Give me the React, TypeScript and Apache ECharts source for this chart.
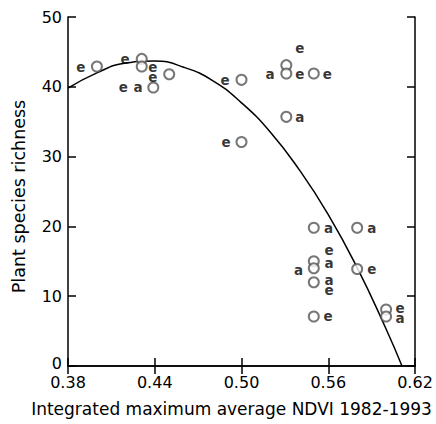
import React, { useEffect, useRef } from "react";
import * as echarts from "echarts";

// Observed sites: [NDVI, richness]
const circleX = [0.40, 0.431, 0.431, 0.450, 0.439, 0.50, 0.50, 0.531, 0.531, 0.55, 0.531, 0.55, 0.58, 0.55, 0.55, 0.55, 0.55, 0.58, 0.60, 0.60];
const circleY = [42.9, 44.0, 42.9, 41.8, 39.9, 41.0, 32.1, 43.1, 41.9, 41.9, 35.7, 19.8, 19.8, 15.0, 14.0, 12.0, 7.1, 13.9, 8.1, 7.1];

// Letter markers (e / a) placed next to points: [NDVI, richness, letter]
const letterX = [0.3888, 0.4194, 0.4386, 0.4386, 0.4182, 0.4284, 0.4886, 0.4893, 0.5404, 0.5197, 0.5404, 0.5593, 0.5404, 0.5603, 0.5902, 0.5605, 0.5605, 0.5394, 0.5605, 0.5605, 0.5598, 0.5902, 0.6096, 0.6096];
const letterY = [42.9, 44.0, 42.8, 41.4, 39.9, 39.9, 41.0, 32.1, 45.5, 41.9, 41.9, 41.9, 35.7, 19.8, 19.8, 16.6, 14.8, 13.8, 12.3, 10.9, 7.1, 13.9, 8.3, 6.9];
const letters = ["e", "e", "e", "e", "e", "a", "e", "e", "e", "a", "e", "e", "a", "a", "a", "e", "a", "a", "a", "e", "e", "e", "e", "a"];

// Fitted curve
const curveX = [0.38, 0.40, 0.42, 0.44, 0.46, 0.48, 0.50, 0.52, 0.54, 0.56, 0.58, 0.60, 0.611];
const curveY = [39.8, 42.0, 43.4, 43.7, 42.8, 40.9, 37.7, 33.5, 28.1, 21.7, 14.1, 5.3, 0];

const xTicks = { min: 0.38, max: 0.62, step: 0.06 };
const yTicks = { min: 0, max: 50, step: 10 };

const xTitle = "Integrated maximum average NDVI 1982-1993";
const yTitle = "Plant species richness";

const FONT = "DejaVu Sans";

export default function App() {
  const ref = useRef<HTMLDivElement>(null);
  useEffect(() => {
    if (!ref.current) return;
    const chart = echarts.init(ref.current, null, { renderer: "svg" });
    const axisLine = { show: true, lineStyle: { color: "#000", width: 1.5 } };
    const tick = { show: true, inside: true, length: 8, lineStyle: { color: "#000", width: 1.5 } };
    chart.setOption({
      animation: false,
      backgroundColor: "#fff",
      grid: { left: 68, right: 21, top: 17, bottom: 58, containLabel: false },
      xAxis: [
        {
          type: "value",
          min: xTicks.min,
          max: xTicks.max,
          interval: xTicks.step,
          position: "bottom",
          axisLine,
          axisTick: tick,
          splitLine: { show: false },
          axisLabel: {
            margin: 8,
            color: "#000",
            fontFamily: FONT,
            fontSize: 16,
            formatter: (v: number) => v.toFixed(2),
          },
          name: xTitle,
          nameLocation: "middle",
          nameGap: 34,
          nameTextStyle: { color: "#000", fontFamily: FONT, fontSize: 17, padding: [0, 20, 0, 0] },
        },
        {
          type: "value",
          min: xTicks.min,
          max: xTicks.max,
          interval: xTicks.step,
          position: "top",
          axisLine,
          axisTick: tick,
          splitLine: { show: false },
          axisLabel: { show: false },
        },
      ],
      yAxis: [
        {
          type: "value",
          min: yTicks.min,
          max: yTicks.max,
          interval: yTicks.step,
          position: "left",
          axisLine,
          axisTick: tick,
          splitLine: { show: false },
          axisLabel: {
            margin: 6,
            color: "#000",
            fontFamily: FONT,
            fontSize: 16,
            formatter: (v: number) => (v === 0 ? "{z|0}" : String(v)),
            rich: { z: { fontFamily: FONT, fontSize: 16, color: "#000", padding: [0, 0, 6, 0] } },
          },
          name: yTitle,
          nameLocation: "middle",
          nameGap: 40,
          nameTextStyle: { color: "#000", fontFamily: FONT, fontSize: 17.5, padding: [0, 10, 0, 0] },
        },
        {
          type: "value",
          min: yTicks.min,
          max: yTicks.max,
          interval: yTicks.step,
          position: "right",
          axisLine,
          axisTick: tick,
          splitLine: { show: false },
          axisLabel: { show: false },
        },
      ],
      series: [
        {
          type: "line",
          data: curveX.map((x, i) => [x, curveY[i]]),
          smooth: true,
          showSymbol: false,
          symbol: "none",
          lineStyle: { color: "#000", width: 1.5 },
          z: 2,
        },
        {
          type: "scatter",
          data: circleX.map((x, i) => [x, circleY[i]]),
          symbol: "emptyCircle",
          symbolSize: 10,
          itemStyle: { color: "#555", borderColor: "#555", borderWidth: 1 },
          z: 3,
        },
        {
          type: "scatter",
          data: letterX.map((x, i) => [x, letterY[i], letters[i]]),
          symbol: "circle",
          symbolSize: 0.1,
          itemStyle: { color: "rgba(0,0,0,0)" },
          label: {
            show: true,
            position: "inside",
            formatter: (p: any) => p.data[2],
            color: "#000",
            fontFamily: FONT,
            fontWeight: "bold",
            fontSize: 13.5,
          },
          z: 4,
        },
      ],
    });
    return () => chart.dispose();
  }, []);
  return (
    <div
      ref={ref}
      style={{ position: "fixed", left: 0, top: 0, width: 436, height: 424, background: "#fff" }}
    />
  );
}
